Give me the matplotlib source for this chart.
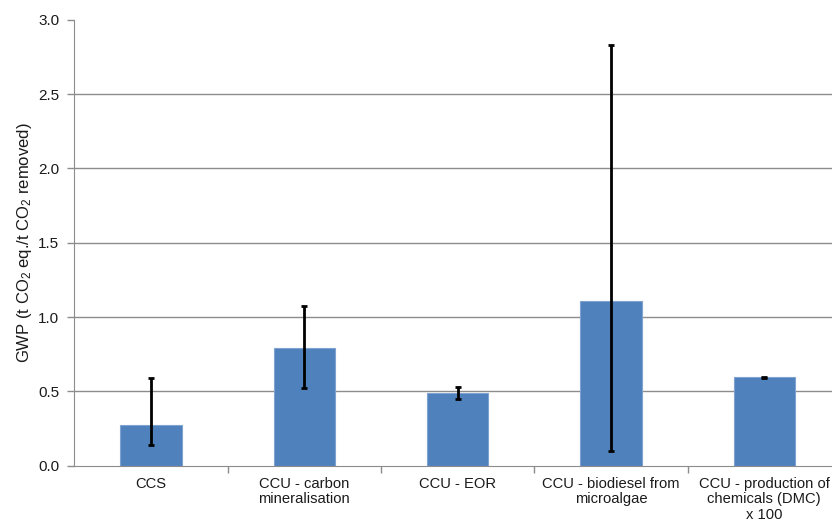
import matplotlib
matplotlib.use("Agg")
import matplotlib.pyplot as plt
import numpy as np

categories = ["CCS", "CCU - carbon\nmineralisation", "CCU - EOR",
              "CCU - biodiesel from\nmicroalgae", "CCU - production of\nchemicals (DMC)\nx 100"]
values = [0.276, 0.79, 0.489, 1.108, 0.594]
err_low = [0.141, 0.525, 0.450, 0.100, 0.591]
err_high = [0.588, 1.074, 0.527, 2.830, 0.598]
yticks = [0.0, 0.5, 1.0, 1.5, 2.0, 2.5, 3.0]

plt.rcParams['font.family'] = ['Liberation Sans', 'DejaVu Sans']
plt.rcParams['mathtext.fontset'] = 'custom'
plt.rcParams['mathtext.rm'] = 'Liberation Sans'
plt.rcParams['mathtext.it'] = 'Liberation Sans:italic'
plt.rcParams['mathtext.bf'] = 'Liberation Sans:bold'

fig = plt.figure(figsize=(8.32, 5.23), dpi=100)
ax = fig.add_axes([0.0894, 0.1096, 0.9213, 0.8527])

x = np.arange(len(categories))
vals = np.array(values)
lo = vals - np.array(err_low)
hi = np.array(err_high) - vals

for t in yticks[1:-1]:
    ax.axhline(t, color='#8c8c8c', linewidth=1.0, zorder=0)

ax.bar(x, vals, width=0.4, color='#4F81BD', edgecolor='#7FA3D0', linewidth=0.8, zorder=2)
ax.errorbar(x, vals, yerr=[lo, hi], fmt='none', ecolor='black', elinewidth=2.0,
            capsize=2.2, capthick=2.0, zorder=3)

ax.set_xlim(-0.5, len(categories) - 0.5)
ax.set_ylim(0, 3.0)
ax.set_yticks(yticks)
ax.set_yticklabels([f"{t:.1f}" for t in yticks], fontsize=11, color='#1a1a1a')
ax.tick_params(axis='y', direction='out', length=5, color='#8c8c8c', width=1, pad=6)

ax.set_xticks(x)
ax.set_xticklabels(categories, fontsize=10.6, color='#1a1a1a', linespacing=1.15)
ax.tick_params(axis='x', which='major', length=0, pad=8)
ax.set_xticks(np.arange(0.5, len(categories) - 0.5, 1.0), minor=True)
ax.tick_params(axis='x', which='minor', direction='out', length=5, color='#8c8c8c', width=1)

for s in ['top', 'right']:
    ax.spines[s].set_visible(False)
ax.spines['left'].set_color('#8c8c8c')
ax.spines['bottom'].set_color('#8c8c8c')

ax.set_ylabel('GWP (t CO$_2$ eq./t CO$_2$ removed)', fontsize=12, color='#1a1a1a', labelpad=3)

fig.savefig('out.png', dpi=100)
